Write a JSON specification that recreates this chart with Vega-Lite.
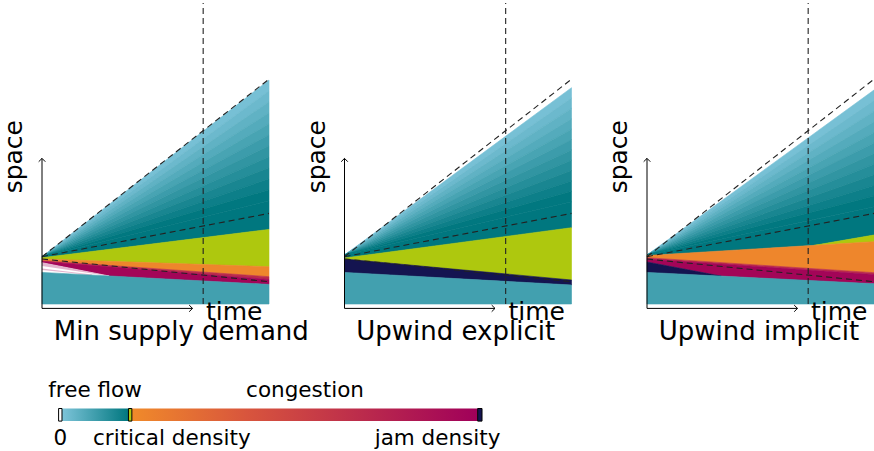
{
"$schema":"https://vega.github.io/schema/vega-lite/v6.json",
"padding":{"left":2,"top":0,"right":0,"bottom":0},
"background":"white",
"columns":3,
"spacing":{"row":104.5,"column":75.5},
"bounds":"flush",
"align":"each",
"resolve":{"scale":{"x":"independent","y":"independent","color":"independent","stroke":"independent"}},
"config":{"view":{"stroke":null}},
"datasets":{
"regions":[
{"panel":"A","r":"w01","t":0,"s":4.73,"s2":4.73,"rho":0.0115},{"panel":"A","r":"w01","t":10,"s":22.4,"s2":21.33,"rho":0.0115},
{"panel":"A","r":"w02","t":0,"s":4.73,"s2":4.73,"rho":0.0347},{"panel":"A","r":"w02","t":10,"s":21.33,"s2":20.23,"rho":0.0347},
{"panel":"A","r":"w03","t":0,"s":4.73,"s2":4.73,"rho":0.0583},{"panel":"A","r":"w03","t":10,"s":20.23,"s2":19.13,"rho":0.0583},
{"panel":"A","r":"w04","t":0,"s":4.73,"s2":4.73,"rho":0.0818},{"panel":"A","r":"w04","t":10,"s":19.13,"s2":18.03,"rho":0.0818},
{"panel":"A","r":"w05","t":0,"s":4.73,"s2":4.73,"rho":0.1054},{"panel":"A","r":"w05","t":10,"s":18.03,"s2":16.93,"rho":0.1054},
{"panel":"A","r":"w06","t":0,"s":4.73,"s2":4.73,"rho":0.129},{"panel":"A","r":"w06","t":10,"s":16.93,"s2":15.83,"rho":0.129},
{"panel":"A","r":"w07","t":0,"s":4.73,"s2":4.73,"rho":0.1525},{"panel":"A","r":"w07","t":10,"s":15.83,"s2":14.73,"rho":0.1525},
{"panel":"A","r":"w08","t":0,"s":4.73,"s2":4.73,"rho":0.176},{"panel":"A","r":"w08","t":10,"s":14.73,"s2":13.63,"rho":0.176},
{"panel":"A","r":"w09","t":0,"s":4.73,"s2":4.73,"rho":0.1997},{"panel":"A","r":"w09","t":10,"s":13.63,"s2":12.53,"rho":0.1997},
{"panel":"A","r":"w10","t":0,"s":4.73,"s2":4.73,"rho":0.223},{"panel":"A","r":"w10","t":10,"s":12.53,"s2":11.43,"rho":0.223},
{"panel":"A","r":"w11","t":0,"s":4.73,"s2":4.73,"rho":0.247},{"panel":"A","r":"w11","t":10,"s":11.43,"s2":10.33,"rho":0.247},
{"panel":"A","r":"d","t":0,"s":4.73,"s2":4.63,"rho":0.2495},{"panel":"A","r":"d","t":10,"s":10.33,"s2":7.46,"rho":0.2495},
{"panel":"A","r":"y","t":0,"s":4.63,"s2":4.5,"rho":0.25},{"panel":"A","r":"y","t":10,"s":7.46,"s2":3.73,"rho":0.25},
{"panel":"A","r":"o","t":0,"s":4.5,"s2":4.33,"rho":0.27},{"panel":"A","r":"o","t":10,"s":3.73,"s2":2.73,"rho":0.27},
{"panel":"A","r":"c","t":0,"s":4.33,"s2":4.25,"rho":0.75},{"panel":"A","r":"c","t":10,"s":2.73,"s2":2.45,"rho":0.75},
{"panel":"A","r":"m","t":0,"s":4.25,"s2":4.13,"rho":0.97},{"panel":"A","r":"m","t":2.96,"s":3.717,"s2":2.8,"rho":0.97},{"panel":"A","r":"m","t":10,"s":2.45,"s2":1.96,"rho":0.97},
{"panel":"A","r":"z","t":0,"s":4.13,"s2":3.16,"rho":0},{"panel":"A","r":"z","t":2.96,"s":2.8,"s2":2.8,"rho":0},
{"panel":"A","r":"b","t":0,"s":3.16,"s2":0,"rho":0.118},{"panel":"A","r":"b","t":10,"s":1.96,"s2":0,"rho":0.118},

{"panel":"B","r":"w01","t":0,"s":4.9,"s2":4.9,"rho":0.0115},{"panel":"B","r":"w01","t":10,"s":21.63,"s2":20.59,"rho":0.0115},
{"panel":"B","r":"w02","t":0,"s":4.9,"s2":4.9,"rho":0.0347},{"panel":"B","r":"w02","t":10,"s":20.59,"s2":19.56,"rho":0.0347},
{"panel":"B","r":"w03","t":0,"s":4.9,"s2":4.9,"rho":0.0583},{"panel":"B","r":"w03","t":10,"s":19.56,"s2":18.52,"rho":0.0583},
{"panel":"B","r":"w04","t":0,"s":4.9,"s2":4.9,"rho":0.0818},{"panel":"B","r":"w04","t":10,"s":18.52,"s2":17.48,"rho":0.0818},
{"panel":"B","r":"w05","t":0,"s":4.9,"s2":4.9,"rho":0.1054},{"panel":"B","r":"w05","t":10,"s":17.48,"s2":16.45,"rho":0.1054},
{"panel":"B","r":"w06","t":0,"s":4.9,"s2":4.9,"rho":0.129},{"panel":"B","r":"w06","t":10,"s":16.45,"s2":15.41,"rho":0.129},
{"panel":"B","r":"w07","t":0,"s":4.9,"s2":4.9,"rho":0.1525},{"panel":"B","r":"w07","t":10,"s":15.41,"s2":14.37,"rho":0.1525},
{"panel":"B","r":"w08","t":0,"s":4.9,"s2":4.9,"rho":0.176},{"panel":"B","r":"w08","t":10,"s":14.37,"s2":13.34,"rho":0.176},
{"panel":"B","r":"w09","t":0,"s":4.9,"s2":4.9,"rho":0.1997},{"panel":"B","r":"w09","t":10,"s":13.34,"s2":12.3,"rho":0.1997},
{"panel":"B","r":"w10","t":0,"s":4.9,"s2":4.9,"rho":0.223},{"panel":"B","r":"w10","t":10,"s":12.3,"s2":11.27,"rho":0.223},
{"panel":"B","r":"w11","t":0,"s":4.9,"s2":4.9,"rho":0.247},{"panel":"B","r":"w11","t":10,"s":11.27,"s2":10.23,"rho":0.247},
{"panel":"B","r":"d","t":0,"s":4.9,"s2":4.6,"rho":0.2495},{"panel":"B","r":"d","t":10,"s":10.23,"s2":7.63,"rho":0.2495},
{"panel":"B","r":"y","t":0,"s":4.6,"s2":4.5,"rho":0.25},{"panel":"B","r":"y","t":10,"s":7.63,"s2":2.4,"rho":0.25},
{"panel":"B","r":"n","t":0,"s":4.5,"s2":3.16,"rho":1},{"panel":"B","r":"n","t":10,"s":2.4,"s2":1.9,"rho":1},
{"panel":"B","r":"b","t":0,"s":3.16,"s2":0,"rho":0.118},{"panel":"B","r":"b","t":10,"s":1.9,"s2":0,"rho":0.118},

{"panel":"C","r":"w01","t":0,"s":4.9,"s2":4.9,"rho":0.0115},{"panel":"C","r":"w01","t":10,"s":21.4,"s2":20.34,"rho":0.0115},
{"panel":"C","r":"w02","t":0,"s":4.9,"s2":4.9,"rho":0.0347},{"panel":"C","r":"w02","t":10,"s":20.34,"s2":19.28,"rho":0.0347},
{"panel":"C","r":"w03","t":0,"s":4.9,"s2":4.9,"rho":0.0583},{"panel":"C","r":"w03","t":10,"s":19.28,"s2":18.22,"rho":0.0583},
{"panel":"C","r":"w04","t":0,"s":4.9,"s2":4.9,"rho":0.0818},{"panel":"C","r":"w04","t":10,"s":18.22,"s2":17.16,"rho":0.0818},
{"panel":"C","r":"w05","t":0,"s":4.9,"s2":4.9,"rho":0.1054},{"panel":"C","r":"w05","t":10,"s":17.16,"s2":16.1,"rho":0.1054},
{"panel":"C","r":"w06","t":0,"s":4.9,"s2":4.9,"rho":0.129},{"panel":"C","r":"w06","t":10,"s":16.1,"s2":15.04,"rho":0.129},
{"panel":"C","r":"w07","t":0,"s":4.9,"s2":4.9,"rho":0.1525},{"panel":"C","r":"w07","t":10,"s":15.04,"s2":13.98,"rho":0.1525},
{"panel":"C","r":"w08","t":0,"s":4.9,"s2":4.9,"rho":0.176},{"panel":"C","r":"w08","t":10,"s":13.98,"s2":12.92,"rho":0.176},
{"panel":"C","r":"w09","t":0,"s":4.9,"s2":4.9,"rho":0.1997},{"panel":"C","r":"w09","t":10,"s":12.92,"s2":11.86,"rho":0.1997},
{"panel":"C","r":"w10","t":0,"s":4.9,"s2":4.9,"rho":0.223},{"panel":"C","r":"w10","t":10,"s":11.86,"s2":10.8,"rho":0.223},
{"panel":"C","r":"w11","t":0,"s":4.9,"s2":4.9,"rho":0.247},{"panel":"C","r":"w11","t":10,"s":10.8,"s2":9.73,"rho":0.247},
{"panel":"C","r":"d","t":0,"s":4.9,"s2":4.85,"rho":0.2495},{"panel":"C","r":"d","t":7.37,"s":8.46,"s2":5.867,"rho":0.2495},{"panel":"C","r":"d","t":10,"s":9.73,"s2":6.9,"rho":0.2495},
{"panel":"C","r":"y","t":7.37,"s":5.867,"s2":5.867,"rho":0.25},{"panel":"C","r":"y","t":10,"s":6.9,"s2":6.23,"rho":0.25},
{"panel":"C","r":"o","t":0,"s":4.85,"s2":4.63,"rho":0.27},{"panel":"C","r":"o","t":10,"s":6.23,"s2":3.13,"rho":0.27},
{"panel":"C","r":"c","t":0,"s":4.63,"s2":4.5,"rho":0.75},{"panel":"C","r":"c","t":10,"s":3.13,"s2":2.95,"rho":0.75},
{"panel":"C","r":"m","t":0,"s":4.5,"s2":4.2,"rho":0.97},{"panel":"C","r":"m","t":3.27,"s":3.993,"s2":2.79,"rho":0.97},{"panel":"C","r":"m","t":10,"s":2.95,"s2":2.03,"rho":0.97},
{"panel":"C","r":"n","t":0,"s":4.2,"s2":3.16,"rho":1},{"panel":"C","r":"n","t":3.27,"s":2.79,"s2":2.79,"rho":1},
{"panel":"C","r":"b","t":0,"s":3.16,"s2":0,"rho":0.118},{"panel":"C","r":"b","t":10,"s":2.03,"s2":0,"rho":0.118}
],
"tints":[
{"panel":"A","r":"p1","t":0,"s":4.13,"s2":3.8,"rho":0.97},{"panel":"A","r":"p1","t":2.96,"s":2.8,"s2":2.8,"rho":0.97},
{"panel":"A","r":"p2","t":0,"s":3.55,"s2":3.4,"rho":0.97},{"panel":"A","r":"p2","t":2.2,"s":2.95,"s2":2.9,"rho":0.97}
],
"lines":[
{"line":"a","t":0,"s":4.73},{"line":"a","t":10,"s":22.48},
{"line":"b","t":0,"s":4.73},{"line":"b","t":10,"s":9.06},
{"line":"c","t":0,"s":4.5},{"line":"c","t":10,"s":2.23},
{"line":"v","t":7.1,"s":0},{"line":"v","t":7.1,"s":30.1}
],
"axes":[
{"ax":"v","t":0,"s":-0.44},{"ax":"v","t":0,"s":14.56},
{"ax":"h","t":0,"s":-0.44},{"ax":"h","t":6.63,"s":-0.44}
],
"tips":[{"dir":"up","t":0,"s":14.56},{"dir":"right","t":6.63,"s":-0.44}],
"labels":[{"kind":"y","t":-0.868,"s":14.73,"text":"space"},{"kind":"x","t":7.22,"s":-1.6,"text":"time"}],
"titles":[
{"panel":"A","text":"Min supply demand","t":0.52,"s":-3.6},
{"panel":"B","text":"Upwind explicit","t":0.52,"s":-3.6},
{"panel":"C","text":"Upwind implicit","t":0.52,"s":-3.6}
],
"cbar":[
{"seg":"zero","u0":0,"u1":0.8,"rho":0},
{"seg":"free","u0":0.8,"u1":16.5},
{"seg":"crit","u0":16.5,"u1":17.3,"rho":0.25},
{"seg":"cong","u0":17.3,"u1":98.97},
{"seg":"jam","u0":98.97,"u1":100,"rho":1}
],
"cblabels":[
{"text":"free flow","u":8.6,"v":1.93},
{"text":"congestion","u":58.2,"v":1.93},
{"text":"0","u":0.4,"v":-1.905},
{"text":"critical density","u":26.74,"v":-1.905},
{"text":"jam density","u":89.5,"v":-1.905}
]
},
"concat":[
{"width":227,"height":301,
"encoding":{"x":{"field":"t","type":"quantitative","scale":{"domain":[0,10],"nice":false,"zero":false},"axis":null},
"y":{"field":"s","type":"quantitative","scale":{"domain":[0,30.1],"nice":false,"zero":false},"axis":null}},
"layer":[
{"data":{"name":"regions"},"transform":[{"filter":"datum.panel==='A'"}],"mark":{"type":"area","strokeWidth":0.6},
"encoding":{"y2":{"field":"s2"},"detail":{"field":"r","type":"nominal"},
"color":{"field":"rho","type":"quantitative","legend":null,"scale":{"type":"linear","domain":[0,0.0001,0.2499,0.25,0.2501,0.5,0.75,0.9999,1],"range":["#ffffff","#7dc4d9","#00777f","#aec80e","#f08a2a","#d8553d","#bb2b4c","#a0005a","#141450"],"interpolate":"rgb"}},
"stroke":{"field":"rho","type":"quantitative","legend":null,"scale":{"type":"linear","domain":[0,0.0001,0.2499,0.25,0.2501,0.5,0.75,0.9999,1],"range":["#ffffff","#7dc4d9","#00777f","#aec80e","#f08a2a","#d8553d","#bb2b4c","#a0005a","#141450"],"interpolate":"rgb"}}}},
{"data":{"name":"tints"},"transform":[{"filter":"datum.panel==='A'"}],"mark":{"type":"area","opacity":0.3},
"encoding":{"y2":{"field":"s2"},"detail":{"field":"r","type":"nominal"},
"color":{"field":"rho","type":"quantitative","legend":null,"scale":{"type":"linear","domain":[0,0.0001,0.2499,0.25,0.2501,0.5,0.75,0.9999,1],"range":["#ffffff","#7dc4d9","#00777f","#aec80e","#f08a2a","#d8553d","#bb2b4c","#a0005a","#141450"],"interpolate":"rgb"}}}},
{"data":{"name":"lines"},"mark":{"type":"line","strokeDash":[6,4],"color":"#222222","strokeWidth":1.1},"encoding":{"detail":{"field":"line","type":"nominal"}}},
{"data":{"name":"axes"},"mark":{"type":"line","color":"#000000","strokeWidth":1},"encoding":{"detail":{"field":"ax","type":"nominal"}}},
{"data":{"name":"tips"},"transform":[{"filter":"datum.dir==='up'"}],"mark":{"type":"point","shape":"M-1,1L0,0L1,1","filled":false,"color":"#000000","size":44,"strokeWidth":1,"opacity":1},"encoding":{}},
{"data":{"name":"tips"},"transform":[{"filter":"datum.dir==='right'"}],"mark":{"type":"point","shape":"M-1,-1L0,0L-1,1","filled":false,"color":"#000000","size":44,"strokeWidth":1,"opacity":1},"encoding":{}},
{"data":{"name":"labels"},"transform":[{"filter":"datum.kind==='y'"}],"mark":{"type":"text","font":"DejaVu Sans","fontSize":25,"angle":270,"align":"center","baseline":"alphabetic","color":"#000000"},"encoding":{"text":{"field":"text"}}},
{"data":{"name":"labels"},"transform":[{"filter":"datum.kind==='x'"}],"mark":{"type":"text","font":"DejaVu Sans","fontSize":25,"align":"left","baseline":"alphabetic","color":"#000000"},"encoding":{"text":{"field":"text"}}},
{"data":{"name":"titles"},"transform":[{"filter":"datum.panel==='A'"}],"mark":{"type":"text","font":"DejaVu Sans","fontSize":26,"align":"left","baseline":"alphabetic","color":"#000000"},"encoding":{"text":{"field":"text"}}}
]},
{"width":227,"height":301,
"encoding":{"x":{"field":"t","type":"quantitative","scale":{"domain":[0,10],"nice":false,"zero":false},"axis":null},
"y":{"field":"s","type":"quantitative","scale":{"domain":[0,30.1],"nice":false,"zero":false},"axis":null}},
"layer":[
{"data":{"name":"regions"},"transform":[{"filter":"datum.panel==='B'"}],"mark":{"type":"area","strokeWidth":0.6},
"encoding":{"y2":{"field":"s2"},"detail":{"field":"r","type":"nominal"},
"color":{"field":"rho","type":"quantitative","legend":null,"scale":{"type":"linear","domain":[0,0.0001,0.2499,0.25,0.2501,0.5,0.75,0.9999,1],"range":["#ffffff","#7dc4d9","#00777f","#aec80e","#f08a2a","#d8553d","#bb2b4c","#a0005a","#141450"],"interpolate":"rgb"}},
"stroke":{"field":"rho","type":"quantitative","legend":null,"scale":{"type":"linear","domain":[0,0.0001,0.2499,0.25,0.2501,0.5,0.75,0.9999,1],"range":["#ffffff","#7dc4d9","#00777f","#aec80e","#f08a2a","#d8553d","#bb2b4c","#a0005a","#141450"],"interpolate":"rgb"}}}},
{"data":{"name":"lines"},"mark":{"type":"line","strokeDash":[6,4],"color":"#222222","strokeWidth":1.1},"encoding":{"detail":{"field":"line","type":"nominal"}}},
{"data":{"name":"axes"},"mark":{"type":"line","color":"#000000","strokeWidth":1},"encoding":{"detail":{"field":"ax","type":"nominal"}}},
{"data":{"name":"tips"},"transform":[{"filter":"datum.dir==='up'"}],"mark":{"type":"point","shape":"M-1,1L0,0L1,1","filled":false,"color":"#000000","size":44,"strokeWidth":1,"opacity":1},"encoding":{}},
{"data":{"name":"tips"},"transform":[{"filter":"datum.dir==='right'"}],"mark":{"type":"point","shape":"M-1,-1L0,0L-1,1","filled":false,"color":"#000000","size":44,"strokeWidth":1,"opacity":1},"encoding":{}},
{"data":{"name":"labels"},"transform":[{"filter":"datum.kind==='y'"}],"mark":{"type":"text","font":"DejaVu Sans","fontSize":25,"angle":270,"align":"center","baseline":"alphabetic","color":"#000000"},"encoding":{"text":{"field":"text"}}},
{"data":{"name":"labels"},"transform":[{"filter":"datum.kind==='x'"}],"mark":{"type":"text","font":"DejaVu Sans","fontSize":25,"align":"left","baseline":"alphabetic","color":"#000000"},"encoding":{"text":{"field":"text"}}},
{"data":{"name":"titles"},"transform":[{"filter":"datum.panel==='B'"}],"mark":{"type":"text","font":"DejaVu Sans","fontSize":26,"align":"left","baseline":"alphabetic","color":"#000000"},"encoding":{"text":{"field":"text"}}}
]},
{"width":227,"height":301,
"encoding":{"x":{"field":"t","type":"quantitative","scale":{"domain":[0,10],"nice":false,"zero":false},"axis":null},
"y":{"field":"s","type":"quantitative","scale":{"domain":[0,30.1],"nice":false,"zero":false},"axis":null}},
"layer":[
{"data":{"name":"regions"},"transform":[{"filter":"datum.panel==='C'"}],"mark":{"type":"area","strokeWidth":0.6},
"encoding":{"y2":{"field":"s2"},"detail":{"field":"r","type":"nominal"},
"color":{"field":"rho","type":"quantitative","legend":null,"scale":{"type":"linear","domain":[0,0.0001,0.2499,0.25,0.2501,0.5,0.75,0.9999,1],"range":["#ffffff","#7dc4d9","#00777f","#aec80e","#f08a2a","#d8553d","#bb2b4c","#a0005a","#141450"],"interpolate":"rgb"}},
"stroke":{"field":"rho","type":"quantitative","legend":null,"scale":{"type":"linear","domain":[0,0.0001,0.2499,0.25,0.2501,0.5,0.75,0.9999,1],"range":["#ffffff","#7dc4d9","#00777f","#aec80e","#f08a2a","#d8553d","#bb2b4c","#a0005a","#141450"],"interpolate":"rgb"}}}},
{"data":{"name":"lines"},"mark":{"type":"line","strokeDash":[6,4],"color":"#222222","strokeWidth":1.1},"encoding":{"detail":{"field":"line","type":"nominal"}}},
{"data":{"name":"axes"},"mark":{"type":"line","color":"#000000","strokeWidth":1},"encoding":{"detail":{"field":"ax","type":"nominal"}}},
{"data":{"name":"tips"},"transform":[{"filter":"datum.dir==='up'"}],"mark":{"type":"point","shape":"M-1,1L0,0L1,1","filled":false,"color":"#000000","size":44,"strokeWidth":1,"opacity":1},"encoding":{}},
{"data":{"name":"tips"},"transform":[{"filter":"datum.dir==='right'"}],"mark":{"type":"point","shape":"M-1,-1L0,0L-1,1","filled":false,"color":"#000000","size":44,"strokeWidth":1,"opacity":1},"encoding":{}},
{"data":{"name":"labels"},"transform":[{"filter":"datum.kind==='y'"}],"mark":{"type":"text","font":"DejaVu Sans","fontSize":25,"angle":270,"align":"center","baseline":"alphabetic","color":"#000000"},"encoding":{"text":{"field":"text"}}},
{"data":{"name":"labels"},"transform":[{"filter":"datum.kind==='x'"}],"mark":{"type":"text","font":"DejaVu Sans","fontSize":25,"align":"left","baseline":"alphabetic","color":"#000000"},"encoding":{"text":{"field":"text"}}},
{"data":{"name":"titles"},"transform":[{"filter":"datum.panel==='C'"}],"mark":{"type":"text","font":"DejaVu Sans","fontSize":26,"align":"left","baseline":"alphabetic","color":"#000000"},"encoding":{"text":{"field":"text"}}}
]},
{"width":227,"height":12.6,
"layer":[
{"data":{"name":"cbar"},"transform":[{"filter":"datum.seg==='free'"}],"mark":{"type":"rect","color":{"gradient":"linear","x1":0,"y1":0,"x2":1,"y2":0,"stops":[{"offset":0,"color":"#7dc4d9"},{"offset":1,"color":"#00777f"}]}},
"encoding":{"x":{"field":"u0","type":"quantitative","scale":{"domain":[-3.92,49.69],"nice":false,"zero":false},"axis":null},"x2":{"field":"u1"}}},
{"data":{"name":"cbar"},"transform":[{"filter":"datum.seg==='cong'"}],"mark":{"type":"rect","color":{"gradient":"linear","x1":0,"y1":0,"x2":1,"y2":0,"stops":[{"offset":0,"color":"#f08a2a"},{"offset":0.333,"color":"#d8553d"},{"offset":0.667,"color":"#bb2b4c"},{"offset":1,"color":"#a0005a"}]}},
"encoding":{"x":{"field":"u0","type":"quantitative","scale":{"domain":[-3.92,49.69],"nice":false,"zero":false},"axis":null},"x2":{"field":"u1"}}},
{"data":{"name":"cbar"},"transform":[{"filter":"isValid(datum.rho)"}],"mark":{"type":"rect","stroke":"#000000","strokeWidth":1},
"encoding":{"x":{"field":"u0","type":"quantitative","scale":{"domain":[-3.92,49.69],"nice":false,"zero":false},"axis":null},"x2":{"field":"u1"},
"color":{"field":"rho","type":"quantitative","legend":null,"scale":{"type":"linear","domain":[0,0.0001,0.2499,0.25,0.2501,0.5,0.75,0.9999,1],"range":["#ffffff","#7dc4d9","#00777f","#aec80e","#f08a2a","#d8553d","#bb2b4c","#a0005a","#141450"],"interpolate":"rgb"}}}},
{"data":{"name":"cblabels"},"mark":{"type":"text","font":"DejaVu Sans","fontSize":21.5,"align":"center","baseline":"alphabetic","color":"#000000"},
"encoding":{"x":{"field":"u","type":"quantitative","scale":{"domain":[-3.92,49.69],"nice":false,"zero":false},"axis":null},
"y":{"field":"v","type":"quantitative","scale":{"domain":[0,1],"nice":false,"zero":false},"axis":null},"text":{"field":"text"}}}
]}
]
}
